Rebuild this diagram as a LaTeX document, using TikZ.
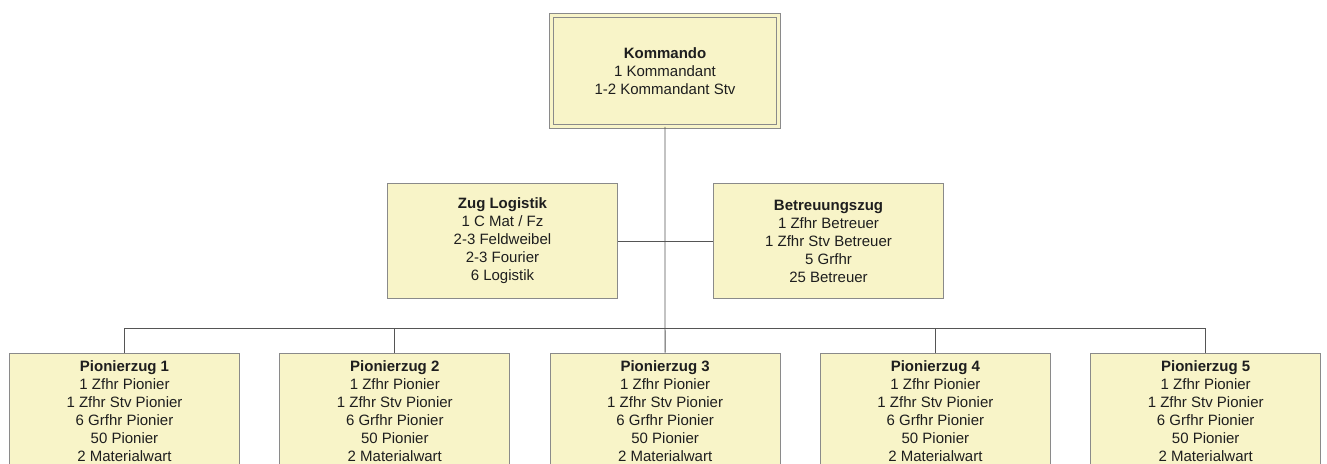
\documentclass[tikz,border=0pt]{standalone}
\usepackage{fontspec}
\setmainfont{Liberation Sans}
\definecolor{boxfill}{HTML}{F8F4C8}
\definecolor{boxline}{HTML}{8A8A8A}
\definecolor{wire}{HTML}{555555}
\definecolor{ink}{HTML}{1E1E1E}
\tikzset{
  unit/.style={draw=boxline, line width=1pt, fill=boxfill, text=ink,
    minimum width=230pt, align=center,
    font=\fontsize{15}{18}\selectfont},
  chief/.style={unit, double=boxfill, double distance=2.6pt, line width=0.9pt,
    minimum width=227pt, minimum height=111pt},
  wire/.style={draw=wire, line width=0.8pt}
}

\begin{document}
\begin{tikzpicture}[x=1pt, y=-1pt]
  \clip (0, 0) rectangle (1327, 463);
  \fill[white] (0, 0) rectangle (1327, 463);

  \node[chief] (kdo) at (665, 70.8)
    {\textbf{Kommando}\\1 Kommandant\\1-2 Kommandant Stv};
  \node[unit, minimum height=115pt] (log) at (502.5, 241)
    {\textbf{Zug Logistik}\\1 C Mat / Fz\\2-3 Feldweibel\\2-3 Fourier\\6 Logistik};
  \node[unit, minimum height=115pt] (betr) at (828.5, 241)
    {\textbf{Betreuungszug}\\1 Zfhr Betreuer\\1 Zfhr Stv Betreuer\\5 Grfhr\\25 Betreuer};

  \foreach \i in {1,...,5}
    \node[unit, anchor=north, minimum height=116pt] (pz\i) at (124.5 + 270.3*\i - 270.3, 352.5)
      {\textbf{Pionierzug \i}\\1 Zfhr Pionier\\1 Zfhr Stv Pionier\\6 Grfhr Pionier\\50 Pionier\\2 Materialwart};

  \coordinate (bus) at (665, 328);
  \draw[wire] (kdo.south) -- (pz3.north);
  \draw[wire] (log.east) -- (betr.west);
  \foreach \i in {1,2,4,5}
    \draw[wire] (pz\i.north) |- (bus);
\end{tikzpicture}
\end{document}
